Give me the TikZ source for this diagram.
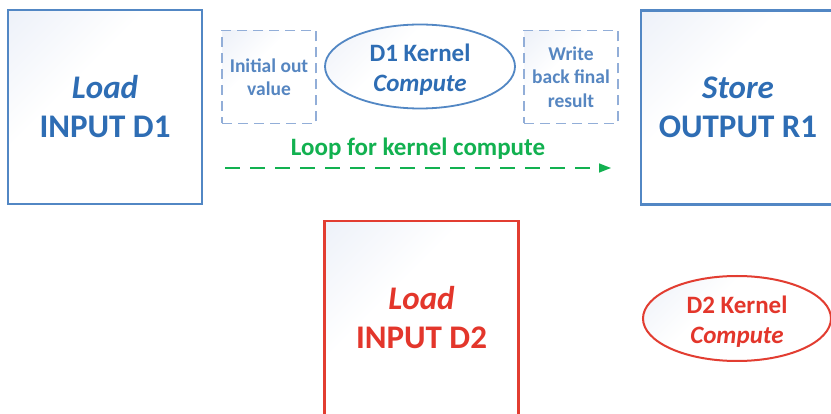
\documentclass[tikz,border=0pt]{standalone}
\usepackage{fontspec}
\setmainfont{Carlito}
\usetikzlibrary{shapes.geometric,arrows.meta}

\definecolor{bluetext}{HTML}{2E6DB4}
\definecolor{lightbluetext}{HTML}{5686C1}
\definecolor{blueline}{HTML}{5287C4}
\definecolor{dashline}{HTML}{92AED8}
\definecolor{redtext}{HTML}{E3362B}
\definecolor{redline}{HTML}{E23D31}
\definecolor{loopgreen}{HTML}{12B150}
\definecolor{tint}{HTML}{E3E9F5}

% soft tint in the upper-left corner, fading to white
\pgfdeclareverticalshading{cornertint}{100bp}{%
  color(0bp)=(white); color(50bp)=(white); color(60bp)=(white);
  color(100bp)=(tint)}

\tikzset{
  x=1pt, y=1pt,
  tinted/.style={shading=cornertint, shading angle=45},
  stagebox/.style={draw=blueline, line width=2.2pt, tinted,
    minimum width=194pt, minimum height=194pt, inner sep=0pt,
    align=center, font=\fontsize{33}{39}\selectfont\bfseries, text=bluetext},
  redbox/.style={stagebox, draw=redline, text=redtext},
  stepbox/.style={draw=dashline, line width=1.8pt, dash pattern=on 10pt off 6pt,
    tinted, minimum width=94pt, minimum height=93pt, inner sep=0pt,
    align=center, font=\fontsize{19.5}{23.5}\selectfont\bfseries, text=lightbluetext},
  kernel/.style={ellipse, draw=blueline, line width=1.8pt, tinted,
    minimum width=190pt, minimum height=84pt, inner sep=0pt},
  kerneltext/.style={align=center, font=\fontsize{25}{30}\selectfont\bfseries,
    text=#1, yshift=-3pt},
  redkernel/.style={kernel, draw=redline, line width=2pt,
    minimum width=188pt, minimum height=85pt},
  looparrow/.style={draw=loopgreen, line width=1.6pt, dash pattern=on 15pt off 10pt,
    -{Triangle[length=12pt,width=9pt,fill=loopgreen]}},
}

\begin{document}
\begin{tikzpicture}
  \useasboundingbox[fill=white] (0,0) rectangle (831,-414);

  % D1 stage
  \node[stagebox] (loadD1) at (105,-107) {\itshape Load\\INPUT D1};
  \node[stepbox] (initout) at (269,-77) {Initial out\\value};
  \node[kernel, label={[kerneltext=bluetext]center:{D1 Kernel\\\itshape Compute}}]
    (kernelD1) at (420,-66.5) {};
  \node[stepbox] (writeback) at (571,-77) {Write\\back final\\result};
  \node[stagebox] (storeR1) at (738,-107.5) {\itshape Store\\OUTPUT R1};

  % loop over the kernel
  \node[font=\fontsize{25}{29}\selectfont\bfseries, text=loopgreen]
    (looplabel) at (418,-149) {Loop for kernel compute};
  \coordinate (loopstart) at (225,-168);
  \coordinate (loopend) at (611,-168);
  \draw[looparrow] (loopstart) -- (loopend);

  % D2 stage
  \node[redbox] (loadD2) at (421.5,-318) {\itshape Load\\INPUT D2};
  \node[redkernel, label={[kerneltext=redtext]center:{D2 Kernel\\\itshape Compute}}]
    (kernelD2) at (737,-318.5) {};
\end{tikzpicture}
\end{document}
